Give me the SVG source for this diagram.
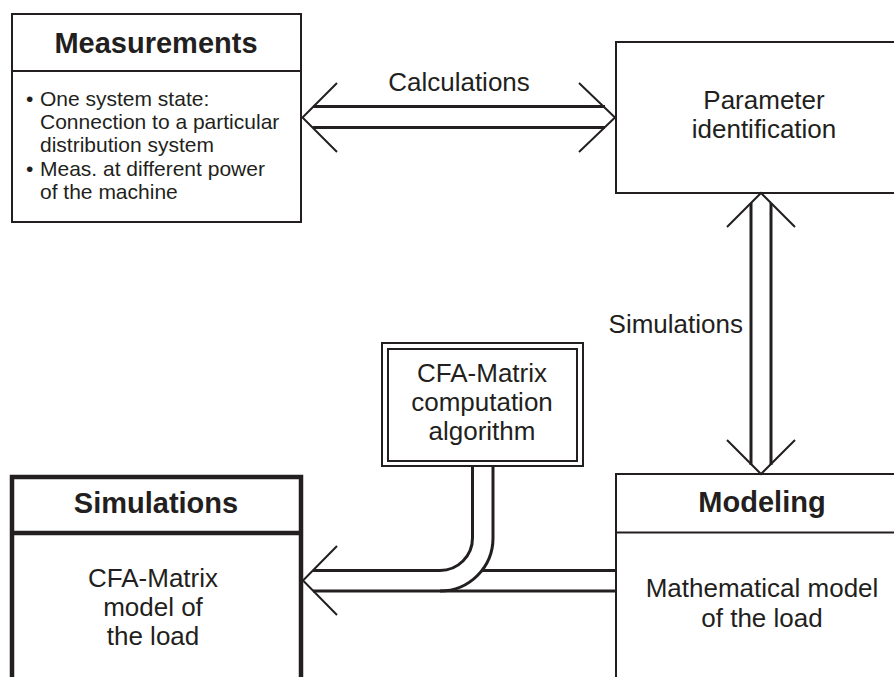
<svg xmlns="http://www.w3.org/2000/svg" width="894" height="677" viewBox="0 0 894 677">
  <style>
    .box { fill: #ffffff; stroke: #231f20; stroke-width: 2; }
    .heavy { fill: #ffffff; stroke: #231f20; stroke-width: 4.5; }
    .rule { stroke: #231f20; stroke-width: 2; fill: none; }
    .rule-heavy { stroke: #231f20; stroke-width: 4.5; fill: none; }
    .shaft { stroke: #231f20; stroke-width: 3; fill: none; }
    .head { stroke: #231f20; stroke-width: 2; fill: none; }
    .title { font-family: "Liberation Sans", Arial, sans-serif; font-weight: bold; font-size: 29px; fill: #231f20; text-anchor: middle; }
    .label { font-family: "Liberation Sans", Arial, sans-serif; font-size: 26px; fill: #231f20; text-anchor: middle; }
    .small { font-family: "Liberation Sans", Arial, sans-serif; font-size: 21px; fill: #231f20; }
  </style>

  <g id="measurements">
    <rect class="box" x="12" y="14" width="289" height="208"/>
    <line class="rule" x1="12" y1="71" x2="301" y2="71"/>
    <text class="title" x="156" y="53">Measurements</text>
    <text class="small" x="26" y="106">•</text>
    <text class="small" x="40" y="106">One system state:</text>
    <text class="small" x="40" y="129">Connection to a particular</text>
    <text class="small" x="40" y="152">distribution system</text>
    <text class="small" x="26" y="176">•</text>
    <text class="small" x="40" y="176">Meas. at different power</text>
    <text class="small" x="40" y="199">of the machine</text>
  </g>

  <g id="parameter-identification">
    <rect class="box" x="616" y="42" width="300" height="151"/>
    <text class="label" x="764" y="109">Parameter</text>
    <text class="label" x="764" y="138">identification</text>
  </g>

  <g id="cfa-algorithm">
    <rect class="box" x="382" y="343" width="201" height="123"/>
    <rect class="box" x="388" y="349" width="189" height="112"/>
    <text class="label" x="482" y="382">CFA-Matrix</text>
    <text class="label" x="482" y="411">computation</text>
    <text class="label" x="482" y="440">algorithm</text>
  </g>

  <g id="simulations">
    <rect class="heavy" x="12" y="477" width="289" height="260"/>
    <line class="rule-heavy" x1="12" y1="533" x2="301" y2="533"/>
    <text class="title" x="156" y="513">Simulations</text>
    <text class="label" x="153" y="587">CFA-Matrix</text>
    <text class="label" x="153" y="616">model of</text>
    <text class="label" x="153" y="645">the load</text>
  </g>

  <g id="modeling">
    <rect class="box" x="616" y="474" width="300" height="260"/>
    <line class="rule" x1="616" y1="532.5" x2="916" y2="532.5"/>
    <text class="title" x="762" y="512">Modeling</text>
    <text class="label" x="762" y="597">Mathematical model</text>
    <text class="label" x="762" y="627">of the load</text>
  </g>

  <g id="connectors">
    <!-- Calculations: two-way hollow arrow between Measurements and Parameter identification -->
    <g id="calculations">
      <line class="shaft" x1="313" y1="106.5" x2="605" y2="106.5"/>
      <line class="shaft" x1="313" y1="127.5" x2="605" y2="127.5"/>
      <polyline class="head" points="337,83 302.5,117.5 337,152"/>
      <polyline class="head" points="579,83 615,117.5 579,152"/>
      <text class="label" x="459" y="91">Calculations</text>
    </g>

    <!-- Simulations: two-way hollow arrow between Parameter identification and Modeling -->
    <g id="simulations-link">
      <line class="shaft" x1="751" y1="203" x2="751" y2="465"/>
      <line class="shaft" x1="771" y1="203" x2="771" y2="465"/>
      <polyline class="head" points="727,227 761,193 795,227"/>
      <polyline class="head" points="727,440 761,474 795,440"/>
      <text class="label" x="743" y="333" style="text-anchor:end">Simulations</text>
    </g>

    <!-- Modeling feeds Simulations; the algorithm pipe bends into the same channel -->
    <g id="model-to-simulations">
      <path class="shaft" d="M472.5,466 V538 A32.5,32.5 0 0 1 440,570.5 H313"/>
      <path class="shaft" d="M493,466 V538 A53,53 0 0 1 440,591"/>
      <line class="shaft" x1="313" y1="591" x2="616" y2="591"/>
      <line class="shaft" x1="482" y1="570.5" x2="616" y2="570.5"/>
      <polyline class="head" points="337,546 303,580.5 337,615"/>
    </g>
  </g>
</svg>
